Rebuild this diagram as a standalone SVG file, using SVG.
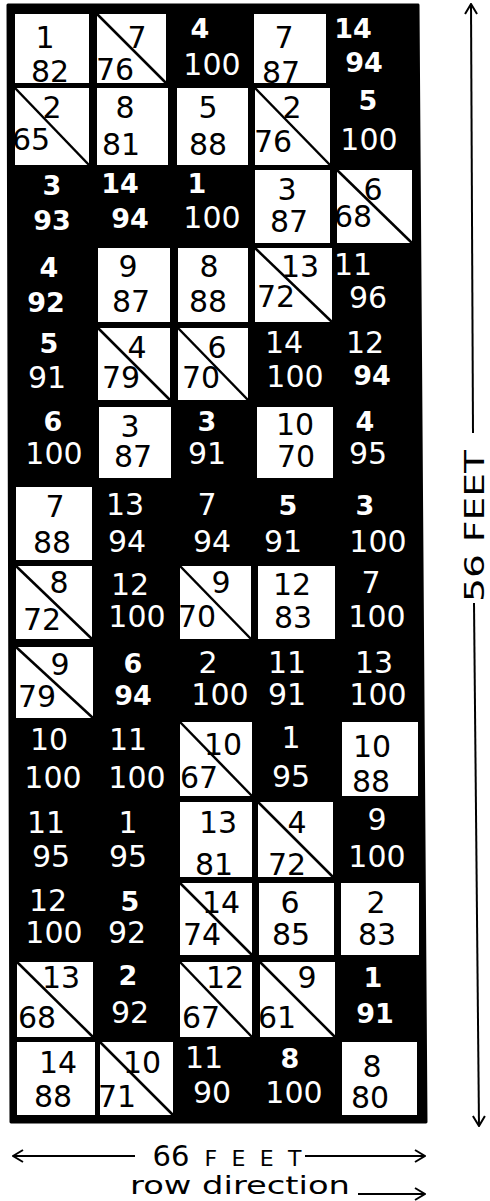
<svg xmlns="http://www.w3.org/2000/svg" width="490" height="1201" viewBox="0 0 490 1201">
<defs>
<style>
.bg{fill:#000;stroke:#000;stroke-width:3;stroke-linejoin:round}
.w{fill:#fff}
.dg{stroke:#000;stroke-width:2.5;fill:none}
text{font-family:"DejaVu Sans","Liberation Sans",sans-serif;text-anchor:middle}
.k{fill:#000;font-size:30px}
.t{fill:#fff;font-size:30px}
.tb{fill:#fff;font-size:27px;font-weight:bold}
.ln{stroke:#000;stroke-width:2;fill:none}
.lbl{fill:#000}
</style>
<marker id="ah" viewBox="0 0 12 14" refX="11" refY="7" markerWidth="12" markerHeight="14" markerUnits="userSpaceOnUse" orient="auto-start-reverse">
<path d="M1,1 L11,7 L1,13" fill="none" stroke="#000" stroke-width="2"/>
</marker>
</defs>
<path class="bg" d="M8,5 L418,5 L426,1122 L11,1122 Z"/>
<g id="grid">
<g id="r1c1"><rect class="w" x="15" y="14" width="74" height="69"/><text class="k" x="45" y="48">1</text><text class="k" x="50" y="82">82</text></g>
<g id="r1c2"><rect class="w" x="97" y="14" width="69" height="69"/><line class="dg" x1="97" y1="14" x2="166" y2="83"/><text class="k" x="137" y="48">7</text><text class="k" x="115" y="80">76</text></g>
<g id="r1c3"><text class="tb" x="200" y="38">4</text><text class="t" x="212" y="75">100</text></g>
<g id="r1c4"><rect class="w" x="254" y="14" width="72" height="69"/><text class="k" x="284" y="48">7</text><text class="k" x="281" y="83">87</text></g>
<g id="r1c5"><text class="tb" x="353" y="38">14</text><text class="tb" x="364" y="72">94</text></g>

<g id="r2c1"><rect class="w" x="15" y="88" width="74" height="77"/><line class="dg" x1="15" y1="88" x2="89" y2="165"/><text class="k" x="52" y="118">2</text><text class="k" x="31" y="150">65</text></g>
<g id="r2c2"><rect class="w" x="97" y="88" width="71" height="77"/><text class="k" x="125" y="118">8</text><text class="k" x="121" y="155">81</text></g>
<g id="r2c3"><rect class="w" x="177" y="88" width="71" height="77"/><text class="k" x="208" y="118">5</text><text class="k" x="208" y="155">88</text></g>
<g id="r2c4"><rect class="w" x="255" y="88" width="75" height="77"/><line class="dg" x1="255" y1="88" x2="330" y2="165"/><text class="k" x="292" y="118">2</text><text class="k" x="273" y="152">76</text></g>
<g id="r2c5"><text class="tb" x="368" y="110">5</text><text class="t" x="369" y="150">100</text></g>

<g id="r3c1"><text class="tb" x="52" y="195">3</text><text class="tb" x="52" y="230">93</text></g>
<g id="r3c2"><text class="tb" x="120" y="193">14</text><text class="tb" x="130" y="228">94</text></g>
<g id="r3c3"><text class="tb" x="197" y="193">1</text><text class="t" x="212" y="228">100</text></g>
<g id="r3c4"><rect class="w" x="255" y="170" width="75" height="73"/><text class="k" x="287" y="200">3</text><text class="k" x="289" y="232">87</text></g>
<g id="r3c5"><rect class="w" x="337" y="170" width="75" height="73"/><line class="dg" x1="337" y1="170" x2="412" y2="243"/><text class="k" x="373" y="200">6</text><text class="k" x="353" y="227">68</text></g>

<g id="r4c1"><text class="tb" x="49" y="277">4</text><text class="tb" x="46" y="312">92</text></g>
<g id="r4c2"><rect class="w" x="98" y="248" width="72" height="74"/><text class="k" x="128" y="277">9</text><text class="k" x="131" y="312">87</text></g>
<g id="r4c3"><rect class="w" x="178" y="248" width="70" height="74"/><text class="k" x="209" y="277">8</text><text class="k" x="208" y="312">88</text></g>
<g id="r4c4"><rect class="w" x="255" y="248" width="77" height="74"/><line class="dg" x1="255" y1="248" x2="332" y2="322"/><text class="k" x="300" y="277">13</text><text class="k" x="276" y="307">72</text></g>
<g id="r4c5"><text class="t" x="353" y="275">11</text><text class="t" x="368" y="308">96</text></g>

<g id="r5c1"><text class="tb" x="49" y="353">5</text><text class="t" x="47" y="388">91</text></g>
<g id="r5c2"><rect class="w" x="98" y="328" width="72" height="72"/><line class="dg" x1="98" y1="328" x2="170" y2="400"/><text class="k" x="137" y="358">4</text><text class="k" x="121" y="388">79</text></g>
<g id="r5c3"><rect class="w" x="178" y="328" width="70" height="72"/><line class="dg" x1="178" y1="328" x2="248" y2="400"/><text class="k" x="217" y="358">6</text><text class="k" x="201" y="388">70</text></g>
<g id="r5c4"><text class="t" x="284" y="353">14</text><text class="t" x="295" y="387">100</text></g>
<g id="r5c5"><text class="t" x="365" y="353">12</text><text class="tb" x="372" y="385">94</text></g>

<g id="r6c1"><text class="tb" x="53" y="431">6</text><text class="t" x="54" y="464">100</text></g>
<g id="r6c2"><rect class="w" x="99" y="407" width="72" height="71"/><text class="k" x="130" y="437">3</text><text class="k" x="133" y="467">87</text></g>
<g id="r6c3"><text class="tb" x="207" y="431">3</text><text class="t" x="207" y="464">91</text></g>
<g id="r6c4"><rect class="w" x="257" y="407" width="76" height="71"/><text class="k" x="295" y="435">10</text><text class="k" x="296" y="467">70</text></g>
<g id="r6c5"><text class="tb" x="365" y="431">4</text><text class="t" x="368" y="464">95</text></g>

<g id="r7c1"><rect class="w" x="16" y="487" width="76" height="73"/><text class="k" x="55" y="517">7</text><text class="k" x="52" y="553">88</text></g>
<g id="r7c2"><text class="t" x="125" y="515">13</text><text class="t" x="127" y="552">94</text></g>
<g id="r7c3"><text class="t" x="207" y="515">7</text><text class="t" x="212" y="552">94</text></g>
<g id="r7c4"><text class="tb" x="288" y="515">5</text><text class="t" x="283" y="552">91</text></g>
<g id="r7c5"><text class="tb" x="365" y="515">3</text><text class="t" x="378" y="552">100</text></g>

<g id="r8c1"><rect class="w" x="16" y="566" width="76" height="73"/><line class="dg" x1="16" y1="566" x2="92" y2="639"/><text class="k" x="59" y="593">8</text><text class="k" x="42" y="630">72</text></g>
<g id="r8c2"><text class="t" x="130" y="595">12</text><text class="t" x="137" y="627">100</text></g>
<g id="r8c3"><rect class="w" x="180" y="566" width="71" height="73"/><line class="dg" x1="180" y1="566" x2="251" y2="639"/><text class="k" x="221" y="593">9</text><text class="k" x="197" y="627">70</text></g>
<g id="r8c4"><rect class="w" x="258" y="566" width="77" height="73"/><text class="k" x="292" y="595">12</text><text class="k" x="293" y="628">83</text></g>
<g id="r8c5"><text class="t" x="371" y="593">7</text><text class="t" x="377" y="627">100</text></g>

<g id="r9c1"><rect class="w" x="16" y="647" width="77" height="71"/><line class="dg" x1="16" y1="647" x2="93" y2="718"/><text class="k" x="60" y="675">9</text><text class="k" x="37" y="707">79</text></g>
<g id="r9c2"><text class="tb" x="133" y="673">6</text><text class="tb" x="133" y="705">94</text></g>
<g id="r9c3"><text class="t" x="208" y="673">2</text><text class="t" x="220" y="705">100</text></g>
<g id="r9c4"><text class="t" x="287" y="673">11</text><text class="t" x="287" y="705">91</text></g>
<g id="r9c5"><text class="t" x="374" y="673">13</text><text class="t" x="378" y="705">100</text></g>

<g id="r10c1"><text class="t" x="49" y="750">10</text><text class="t" x="53" y="788">100</text></g>
<g id="r10c2"><text class="t" x="128" y="750">11</text><text class="t" x="137" y="788">100</text></g>
<g id="r10c3"><rect class="w" x="180" y="722" width="72" height="74"/><line class="dg" x1="180" y1="722" x2="252" y2="796"/><text class="k" x="223" y="755">10</text><text class="k" x="199" y="788">67</text></g>
<g id="r10c4"><text class="t" x="291" y="748">1</text><text class="t" x="291" y="787">95</text></g>
<g id="r10c5"><rect class="w" x="342" y="722" width="76" height="74"/><text class="k" x="372" y="757">10</text><text class="k" x="371" y="792">88</text></g>

<g id="r11c1"><text class="t" x="46" y="833">11</text><text class="t" x="51" y="867">95</text></g>
<g id="r11c2"><text class="t" x="128" y="833">1</text><text class="t" x="128" y="867">95</text></g>
<g id="r11c3"><rect class="w" x="180" y="802" width="72" height="75"/><text class="k" x="218" y="833">13</text><text class="k" x="214" y="875">81</text></g>
<g id="r11c4"><rect class="w" x="258" y="802" width="75" height="75"/><line class="dg" x1="258" y1="802" x2="333" y2="877"/><text class="k" x="297" y="833">4</text><text class="k" x="287" y="875">72</text></g>
<g id="r11c5"><text class="t" x="377" y="830">9</text><text class="t" x="377" y="867">100</text></g>

<g id="r12c1"><text class="t" x="48" y="911">12</text><text class="t" x="54" y="943">100</text></g>
<g id="r12c2"><text class="tb" x="130" y="911">5</text><text class="t" x="127" y="943">92</text></g>
<g id="r12c3"><rect class="w" x="180" y="883" width="72" height="72"/><line class="dg" x1="180" y1="883" x2="252" y2="955"/><text class="k" x="221" y="913">14</text><text class="k" x="202" y="945">74</text></g>
<g id="r12c4"><rect class="w" x="259" y="883" width="75" height="72"/><text class="k" x="290" y="913">6</text><text class="k" x="291" y="945">85</text></g>
<g id="r12c5"><rect class="w" x="341" y="883" width="78" height="72"/><text class="k" x="376" y="913">2</text><text class="k" x="377" y="945">83</text></g>

<g id="r13c1"><rect class="w" x="17" y="962" width="76" height="75"/><line class="dg" x1="17" y1="962" x2="93" y2="1037"/><text class="k" x="61" y="988">13</text><text class="k" x="37" y="1028">68</text></g>
<g id="r13c2"><text class="tb" x="128" y="985">2</text><text class="t" x="130" y="1023">92</text></g>
<g id="r13c3"><rect class="w" x="180" y="962" width="72" height="75"/><line class="dg" x1="180" y1="962" x2="252" y2="1037"/><text class="k" x="225" y="988">12</text><text class="k" x="201" y="1028">67</text></g>
<g id="r13c4"><rect class="w" x="260" y="962" width="75" height="75"/><line class="dg" x1="260" y1="962" x2="335" y2="1037"/><text class="k" x="307" y="988">9</text><text class="k" x="277" y="1028">61</text></g>
<g id="r13c5"><text class="tb" x="373" y="987">1</text><text class="tb" x="375" y="1023">91</text></g>

<g id="r14c1"><rect class="w" x="17" y="1042" width="78" height="73"/><text class="k" x="58" y="1073">14</text><text class="k" x="53" y="1107">88</text></g>
<g id="r14c2"><rect class="w" x="100" y="1042" width="73" height="73"/><line class="dg" x1="100" y1="1042" x2="173" y2="1115"/><text class="k" x="142" y="1073">10</text><text class="k" x="117" y="1107">71</text></g>
<g id="r14c3"><text class="t" x="204" y="1068">11</text><text class="t" x="212" y="1103">90</text></g>
<g id="r14c4"><text class="tb" x="290" y="1068">8</text><text class="t" x="294" y="1103">100</text></g>
<g id="r14c5"><rect class="w" x="342" y="1042" width="75" height="73"/><text class="k" x="372" y="1077">8</text><text class="k" x="370" y="1108">80</text></g>
</g>

<g id="connectors">
<line class="ln" x1="473" y1="433" x2="471" y2="4" marker-end="url(#ah)"/>
<line class="ln" x1="474" y1="603" x2="479" y2="1126" marker-end="url(#ah)"/>
<line class="ln" x1="135" y1="1156" x2="13" y2="1156" marker-end="url(#ah)"/>
<line class="ln" x1="305" y1="1156" x2="425" y2="1156" marker-end="url(#ah)"/>
<line class="ln" x1="358" y1="1194" x2="425" y2="1194" marker-end="url(#ah)"/>
</g>

<g id="labels">
<text class="lbl" transform="translate(484,526) rotate(-90)" x="0" y="0" font-size="27" textLength="152" lengthAdjust="spacingAndGlyphs">56 FEET</text>
<text class="lbl" x="171" y="1166" font-size="29">66</text>
<text class="lbl" x="253" y="1166" font-size="22" textLength="97" lengthAdjust="spacing">FEET</text>
<text class="lbl" x="240" y="1194" font-size="25" textLength="220" lengthAdjust="spacingAndGlyphs">row direction</text>
</g>
</svg>
